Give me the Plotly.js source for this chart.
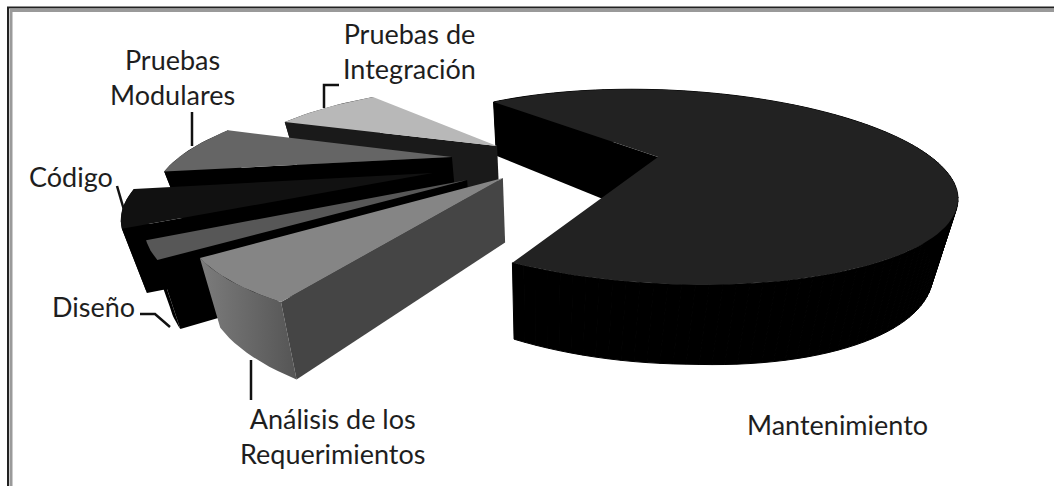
<!DOCTYPE html>
<html>
<head>
<meta charset="utf-8">
<script src="https://cdn.plot.ly/plotly-3.0.1.min.js"></script>
<style>html,body{margin:0;padding:0;background:#fff}#chart{width:1054px;height:486px}</style>
</head>
<body>
<div id="chart"></div>
<script>
// Data: share of software life-cycle cost (percent)
const categories = ['Mantenimiento', 'Pruebas de Integración', 'Pruebas Modulares', 'Código', 'Diseño', 'Análisis de los Requerimientos'];
const values = [69.3, 8.4, 8.0, 5.7, 2.5, 6.1];
const labelLines = [['Mantenimiento'], ['Pruebas de', 'Integración'], ['Pruebas', 'Modulares'], ['Código'], ['Diseño'], ['Análisis de los', 'Requerimientos']];

// Styles
const topColors = ['#222222', '#b8b8b8', '#656565', '#111111', '#575757', '#858585'];
const cutColors = ['#000000', '#1a1a1a', '#000000', '#000000', '#000000', '#454545'];
const rimColors = ['#000000', '#1a1a1a', '#000000', '#000000', '#000000', '#666666'];

// Explosion of each slice (disc units) and its radius
const pullX = [0, -0.602, -0.740, -0.765, -0.634, -0.519];
const pullY = [0, 0.055, -0.092, -0.267, -0.320, -0.286];
const radius = [1.0, 0.94, 0.975, 0.954, 0.976, 0.99];
const startAngle = 47.2;   // degrees counter-clockwise from "away from the viewer"

// Camera: projective map of the pie disc to the page
const CX = 667, CY = 187, AX = 291, AY = 97, SLOPE = 12, TX = -0.031, TY = 0.305;
const TA = Math.hypot(TX, TY), NX = TX / TA, NY = TY / TA;
function project(p, q) {
  const w = p * NX + q * NY, z = -p * NY + q * NX;
  const d = 1 + TA * w;
  const w2 = (w + TA) / d, z2 = z * Math.sqrt(1 - TA * TA) / d;
  const px = w2 * NX - z2 * NY, py = w2 * NY + z2 * NX;
  return [CX + AX * px, CY + SLOPE * px - AY * py];
}
function lower(pt) {            // same point on the underside of the pie
  const [x, y] = pt;
  const extra = x < 500 ? 0.02 * (x - 500) : 0.03 * Math.max(0, x - 700);
  const depth = 54 + 0.14 * (y - 103) + extra;
  return [x + 0.06 * (540 - x), y + depth];
}
function rimPoint(i, deg) {
  const a = deg * Math.PI / 180;
  return project(pullX[i] - radius[i] * Math.sin(a), pullY[i] + radius[i] * Math.cos(a));
}
function arc(i, a0, a1) {
  const pts = [], n = Math.max(8, Math.ceil(Math.abs(a1 - a0) / 2));
  for (let k = 0; k <= n; k++) pts.push(rimPoint(i, a0 + (a1 - a0) * k / n));
  return pts;
}
function face(pts, color, name, gradient, lineWidth) {
  const t = {
    type: 'scatter', mode: 'lines', x: pts.map(p => p[0]).concat(pts[0][0]),
    y: pts.map(p => p[1]).concat(pts[0][1]), fill: 'toself', fillcolor: color,
    line: {width: lineWidth || 0, color: color}, hoverinfo: 'skip', showlegend: false, name: name
  };
  if (gradient) t.fillgradient = gradient;
  return t;
}

const total = values.reduce((a, b) => a + b, 0);
const span = values.map(v => v / total * 360);
// Slices run counter-clockwise from startAngle; Mantenimiento closes the circle
const ranges = [];
let cursor = startAngle;
for (let i = 1; i < values.length; i++) { ranges[i] = [cursor, cursor + span[i]]; cursor += span[i]; }
ranges[0] = [cursor, cursor + span[0]];

const traces = [];
categories.forEach((name, i) => {
  const [a0, a1] = ranges[i];
  const apex = project(pullX[i], pullY[i]);
  const rim = arc(i, a0, a1);
  const rimLow = rim.map(lower).reverse();
  const e = rim[rim.length - 1];
  if (i === 0) {
    traces.push(face([e, apex, lower(apex), lower(e)], cutColors[i], name));
    // outer wall as one quad per step, so the silhouette on the right fills fully
    for (let k = 0; k + 1 < rim.length; k++) {
      traces.push(face([rim[k], rim[k + 1], lower(rim[k + 1]), lower(rim[k])], rimColors[i], name, null, 1));
    }
  } else {
    const grad = i === 5 ? {type: 'horizontal', colorscale: [[0, '#7c7c7c'], [1, '#555555']]} : null;
    traces.push(face(rim.concat(rimLow), rimColors[i], name, grad));
    traces.push(face([apex, e, lower(e), lower(apex)], cutColors[i], name));
  }
  traces.push(face([apex].concat(rim), topColors[i], name));
});

const labelX = [837, 409, 172, 71, 93, 332];
const labelY = [424, 51, 77, 176, 306, 436];
const annotations = categories.map((c, i) => ({
  x: labelX[i], y: labelY[i], xref: 'x', yref: 'y', showarrow: false,
  text: labelLines[i].join('<br>'), align: 'center', xanchor: 'center', yanchor: 'middle',
  font: {family: 'Lato, "Open Sans", sans-serif', size: 27, color: '#1e1e1e'}
}));

const leader = (d) => ({type: 'path', path: d, xref: 'x', yref: 'y', line: {color: '#111', width: 2.5}});
const shapes = [
  leader('M324,108 L324,85 L339,85'),
  leader('M192,112 L192,146'),
  leader('M117,186 L124,210'),
  leader('M140,314 L155,314 L170,327'),
  leader('M251,360 L251,400'),
  {type: 'path', path: 'M11,486 L11,10.5 L1054,10.5', xref: 'x', yref: 'y', line: {color: '#9a9a9a', width: 3}},
  {type: 'path', path: 'M8,486 L8,7.5 L1054,7.5', xref: 'x', yref: 'y', line: {color: '#222', width: 2}}
];

const axis = {visible: false, fixedrange: true, zeroline: false, showgrid: false};
Plotly.newPlot('chart', traces, {
  width: 1054, height: 486, margin: {l: 0, r: 0, t: 0, b: 0},
  paper_bgcolor: '#fff', plot_bgcolor: '#fff', showlegend: false,
  xaxis: Object.assign({range: [0, 1054]}, axis),
  yaxis: Object.assign({range: [486, 0]}, axis),
  annotations: annotations, shapes: shapes
}, {displayModeBar: false, staticPlot: true});
</script>
</body>
</html>
